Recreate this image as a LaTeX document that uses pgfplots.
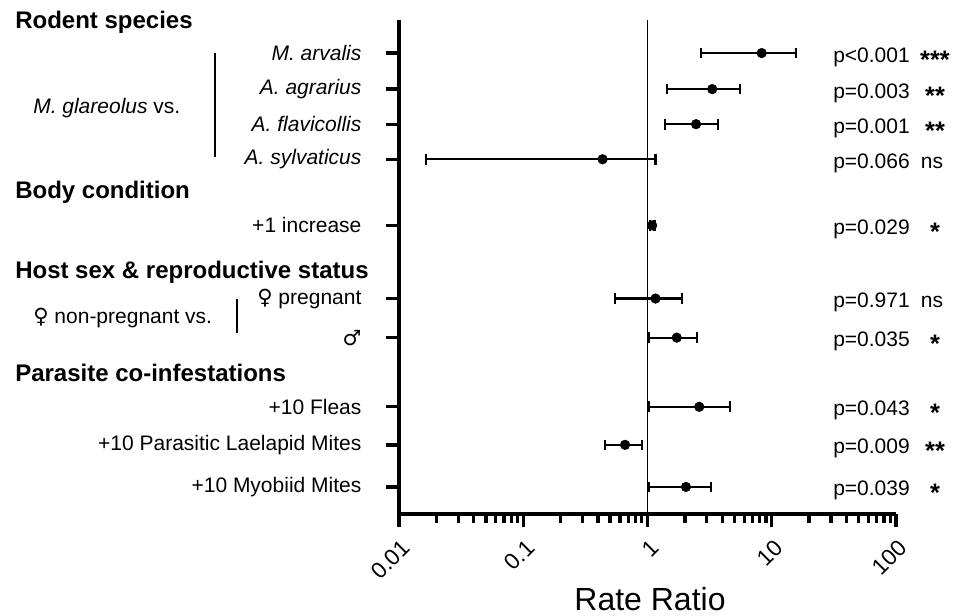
\documentclass[border=0pt]{standalone}
\usepackage{fontspec}
\setmainfont{Liberation Sans}
\newfontfamily\symfont{DejaVu Sans}
\usepackage{pgfplots}
\usepackage{pgfplotstable}
\pgfplotsset{compat=1.18}

% row = vertical position of each estimate, est/lo/hi = rate ratio and 95% CI
\pgfplotstableread{
row est   lo     hi
460 8.3   2.69   15.7
424 3.32  1.44   5.56
389 2.46  1.38   3.72
354 0.435 0.0165 1.16
288 1.09  1.04   1.14
215 1.16  0.548  1.91
176 1.72  1.03   2.51
107 2.61  1.03   4.64
69  0.66  0.455  0.90
27  2.04  1.03   3.26
}\rates

\newcommand{\txt}{\fontsize{15.75}{18}\selectfont}
\newcommand{\hdr}{\fontsize{18}{21}\selectfont\bfseries}
\newcommand{\stars}[1]{\raisebox{-4pt}{\fontsize{19}{21}\selectfont\bfseries #1}}

\begin{document}
\begin{tikzpicture}
\begin{axis}[
    name=ax,
    scale only axis,
    width=372.75pt, height=370.5pt,
    xmode=log, xmin=0.01, xmax=100,
    ymin=0, ymax=493,
    axis x line*=bottom, axis y line*=left,
    axis line style={line width=3pt},
    tick align=outside,
    xtick={0.01,0.1,1,10,100},
    xticklabels={0.01,0.1,1,10,100},
    minor xtick={0.02,0.03,0.04,0.05,0.06,0.07,0.08,0.09,
                 0.2,0.3,0.4,0.5,0.6,0.7,0.8,0.9,
                 2,3,4,5,6,7,8,9,20,30,40,50,60,70,80,90},
    major tick length=10pt, minor tick length=6.75pt,
    every major tick/.append style={black, line width=2.5pt},
    every minor tick/.append style={black, line width=2.5pt},
    ytick={460,424,389,354,288,215,176,107,69,27},
    yticklabels={\textit{M. arvalis}, \textit{A. agrarius}, \textit{A. flavicollis},
                 \textit{A. sylvaticus}, +1 increase, {{\symfont ♀} pregnant},
                 {\symfont ♂}, +10 Fleas, +10 Parasitic Laelapid Mites, +10 Myobiid Mites},
    yticklabel style={font=\txt, anchor=east, inner sep=0pt, xshift=-18pt},
    xticklabel style={font=\fontsize{17}{19}\selectfont, rotate=45, anchor=north east,
                      inner sep=0pt, yshift=-6.5pt, xshift=-4.9pt},
    clip=false,
]
\addplot[black, line width=0.9pt] coordinates {(1,0) (1,493)};
\addplot[only marks, mark=*, mark size=3.6pt, black,
    error bars/.cd, x dir=both, x explicit,
    error bar style={line width=1.6pt, black},
    error mark options={rotate=90, mark size=4pt, line width=1.6pt, black}]
    table[x=est, y=row,
          x error plus expr=\thisrow{hi}-\thisrow{est},
          x error minus expr=\thisrow{est}-\thisrow{lo}]{\rates};
\end{axis}

% annotations placed in pixel units of the reference
\begin{scope}[shift={(ax.south west)}, x=0.75pt, y=-0.75pt, shift={(-399,-514)}]
\path[use as bounding box] (0,0) rectangle (964,616);
\node[anchor=base west, inner sep=0pt, font=\hdr] at (15,29) {Rodent species};
\node[anchor=base west, inner sep=0pt, font=\hdr] at (15,199) {Body condition};
\node[anchor=base west, inner sep=0pt, font=\hdr] at (15,279) {Host sex \& reproductive status};
\node[anchor=base west, inner sep=0pt, font=\hdr] at (15,382) {Parasite co-infestations};
\node[anchor=west, inner sep=0pt, font=\txt] at (33,108) {\textit{M. glareolus} vs.};
\node[anchor=west, inner sep=0pt, font=\txt] at (33,318) {{\symfont ♀} non-pregnant vs.};
\draw[line width=1.5pt] (215,53) -- (215,157);
\draw[line width=1.5pt] (237,299) -- (237,333);
% p-values (baseline a little below each row) and significance codes
\foreach \y/\p/\s/\sx in {54/{p<0.001}/\stars{***}/935, 90/{p=0.003}/\stars{**}/935,
                      125/{p=0.001}/\stars{**}/935, 160/{p=0.066}/ns/932,
                      226/{p=0.029}/\stars{*}/935, 299/{p=0.971}/ns/932,
                      338/{p=0.035}/\stars{*}/935, 407/{p=0.043}/\stars{*}/935,
                      445/{p=0.009}/\stars{**}/935, 487/{p=0.039}/\stars{*}/935} {
  \node[anchor=base west, inner sep=0pt, font=\txt] at (833,\y+9) {\p};
  \node[anchor=base, inner sep=0pt, font=\txt] at (\sx,\y+9) {\s};
}
\node[font=\fontsize{24}{28}\selectfont] at (650,599) {Rate Ratio};
\end{scope}
\end{tikzpicture}
\end{document}
